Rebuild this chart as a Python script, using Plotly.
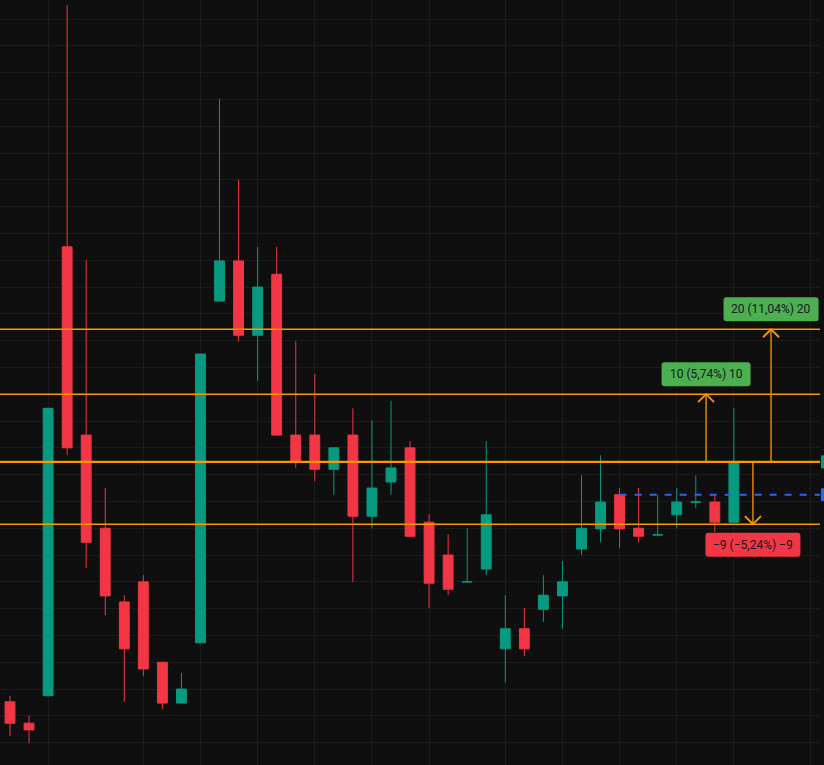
import plotly.graph_objects as go

# ---- candle data (bar index 0..38) ----
opens  = [146.1, 142.9, 147.0, 214.0, 185.9, 172.0, 161.0, 164.0, 152.0, 145.9,
          154.9, 205.9, 211.9, 200.8, 209.9, 185.9, 185.9, 180.8, 185.9, 173.8,
          178.9, 184.0, 172.9, 168.0, 164.0, 165.9, 154.0, 157.0, 159.9, 161.9,
          168.9, 171.9, 177.0, 172.0, 171.0, 174.0, 175.9, 175.9, 172.9]
highs  = [147.0, 144.0, 189.9, 250.1, 212.0, 178.0, 162.0, 165.0, 152.0, 150.4,
          198.0, 236.1, 224.0, 214.0, 214.0, 199.9, 195.0, 184.0, 189.9, 188.1,
          191.0, 185.0, 174.1, 171.1, 172.0, 185.0, 162.0, 160.1, 165.0, 167.1,
          179.9, 182.9, 178.0, 178.0, 177.0, 178.0, 179.9, 177.0, 189.9]
lows   = [141.0, 139.9, 147.0, 182.9, 166.1, 159.0, 146.1, 149.9, 145.0, 145.9,
          154.9, 205.9, 199.9, 194.0, 185.9, 181.0, 179.0, 177.0, 164.0, 172.0,
          177.0, 170.8, 160.1, 162.0, 164.0, 165.0, 149.0, 152.9, 158.0, 157.0,
          168.0, 169.9, 169.0, 169.9, 171.0, 172.0, 175.0, 171.4, 172.9]
closes = [142.9, 141.9, 189.9, 184.0, 169.9, 161.9, 154.0, 151.0, 145.9, 148.0,
          198.0, 211.9, 200.8, 208.0, 185.9, 181.9, 180.8, 184.0, 173.8, 178.0,
          181.0, 170.8, 163.8, 162.9, 164.0, 174.0, 157.0, 154.0, 162.0, 164.0,
          172.0, 175.9, 171.9, 170.8, 171.0, 175.9, 175.9, 172.9, 181.9]
bars = list(range(len(opens)))

# vertical (time) grid positions, in bar index
time_grid = [2, 7, 10, 13, 16, 19, 22, 26, 29, 32, 35, 38, 42]

# position tool levels
entry_price = 181.9
tp1_price = 192.0
tp2_price = 201.7
sl_price = 172.6
alert_price = 177.0
alert_start_bar = 32
last_price = 181.9

arrow_tp1_bar = 36.54
arrow_tp2_bar = 39.95
arrow_sl_bar = 39.0
label_tp1 = "10 (5,74%) 10"
label_tp2 = "20 (11,04%) 20"
label_sl = "−9 (−5,24%) −9"

# ---- styling ----
W, H = 824, 765
ML, MR, MT, MB = 0, 4, 0, 0
X_RANGE = [-0.525, 42.52]
Y_RANGE = [136.66, 250.84]
BG = "#0f0f0f"
GRID = "rgba(242,242,242,0.06)"
UP = "#089981"
DOWN = "#f23645"
ORANGE = "#ff9800"
BLUE = "#2962ff"
LABEL_GREEN = "#4caf50"

px_x = (W - ML - MR) / (X_RANGE[1] - X_RANGE[0])
px_y = (H - MT - MB) / (Y_RANGE[1] - Y_RANGE[0])

up_idx = [i for i in bars if closes[i] >= opens[i]]
dn_idx = [i for i in bars if closes[i] < opens[i]]

def sub(arr, idx):
    return [arr[i] for i in idx]

fig = go.Figure()
for idx, col in ((up_idx, UP), (dn_idx, DOWN)):
    fig.add_trace(go.Candlestick(
        x=idx, open=sub(opens, idx), high=sub(highs, idx),
        low=sub(lows, idx), close=sub(closes, idx),
        increasing=dict(line=dict(color=col, width=1), fillcolor=col),
        decreasing=dict(line=dict(color=col, width=1), fillcolor=col),
        whiskerwidth=0, showlegend=False, hoverinfo="skip"))

shapes = []
# horizontal levels
for p, w in ((tp2_price, 1.5), (tp1_price, 1.5), (entry_price, 2.2), (sl_price, 1.5)):
    shapes.append(dict(type="line", xref="paper", yref="y", x0=0, x1=1, y0=p, y1=p,
                       line=dict(color=ORANGE, width=w), layer="above"))
# blue dashed alert line
shapes.append(dict(type="line", xref="x", yref="y", x0=alert_start_bar, x1=X_RANGE[1],
                   y0=alert_price, y1=alert_price,
                   line=dict(color=BLUE, width=2, dash="7px,8px")))

# arrows
dx = 8 / px_x
dy = 8 / px_y
for bx, target, up in ((arrow_tp1_bar, tp1_price, True),
                       (arrow_tp2_bar, tp2_price, True),
                       (arrow_sl_bar, sl_price, False)):
    shapes.append(dict(type="line", xref="x", yref="y", x0=bx, x1=bx,
                       y0=entry_price, y1=target, line=dict(color=ORANGE, width=1.3)))
    s = -1 if up else 1
    path = f"M {bx-dx},{target + s*dy} L {bx},{target} L {bx+dx},{target + s*dy}"
    shapes.append(dict(type="path", xref="x", yref="y", path=path,
                       line=dict(color=ORANGE, width=1.8)))

# price-scale markers peeking at the right edge
half = 6.5 / px_y
plot_w = W - ML - MR
for p, col in ((last_price, UP), (alert_price, BLUE)):
    shapes.append(dict(type="rect", xref="paper", yref="y",
                       x0=1 + 1 / plot_w, x1=1 + 12 / plot_w,
                       y0=p - half, y1=p + half, fillcolor=col, line=dict(width=0)))


def rounded_box(cx, cy, wpx, hpx, rpx):
    """rounded rectangle path in data units, sized in pixels"""
    hw, hh = wpx / 2 / px_x, hpx / 2 / px_y
    rx, ry = rpx / px_x, rpx / px_y
    x0, x1, y0, y1 = cx - hw, cx + hw, cy - hh, cy + hh
    return (f"M {x0+rx},{y1} L {x1-rx},{y1} Q {x1},{y1} {x1},{y1-ry} "
            f"L {x1},{y0+ry} Q {x1},{y0} {x1-rx},{y0} L {x0+rx},{y0} "
            f"Q {x0},{y0} {x0},{y0+ry} L {x0},{y1-ry} Q {x0},{y1} {x0+rx},{y1} Z")


annotations = []
for bx, target, text, col, up, wbox in ((arrow_tp1_bar, tp1_price, label_tp1, LABEL_GREEN, True, 89),
                                        (arrow_tp2_bar, tp2_price, label_tp2, LABEL_GREEN, True, 95),
                                        (arrow_sl_bar, sl_price, label_sl, DOWN, False, 95)):
    cy = target + (20 if up else -20.5) / px_y
    shapes.append(dict(type="path", xref="x", yref="y", path=rounded_box(bx, cy, wbox, 24, 3),
                       fillcolor=col, line=dict(width=0), layer="above"))
    annotations.append(dict(
        x=bx, y=cy, xref="x", yref="y", text=text, showarrow=False,
        yanchor="middle", xanchor="center",
        font=dict(family="Roboto, Open Sans, sans-serif", size=12, color="#131722")))

fig.update_layout(
    width=W, height=H,
    margin=dict(l=ML, r=MR, t=MT, b=MB),
    paper_bgcolor=BG, plot_bgcolor=BG,
    showlegend=False, boxgap=0.26,
    shapes=shapes, annotations=annotations,
    xaxis=dict(range=X_RANGE, rangeslider=dict(visible=False), tickmode="array",
               tickvals=time_grid, showticklabels=False, showgrid=True,
               gridcolor=GRID, gridwidth=1, zeroline=False, showline=False, ticks=""),
    yaxis=dict(range=Y_RANGE, dtick=4, tick0=0, showticklabels=False, showgrid=True,
               gridcolor=GRID, gridwidth=1, zeroline=False, showline=False, ticks=""),
)

fig.write_html(
    "out.html",
    config={"displayModeBar": False},
    post_script="document.body.style.margin='0px';document.body.style.overflow='hidden';"
                "document.body.style.backgroundColor='#0f0f0f';",
)
